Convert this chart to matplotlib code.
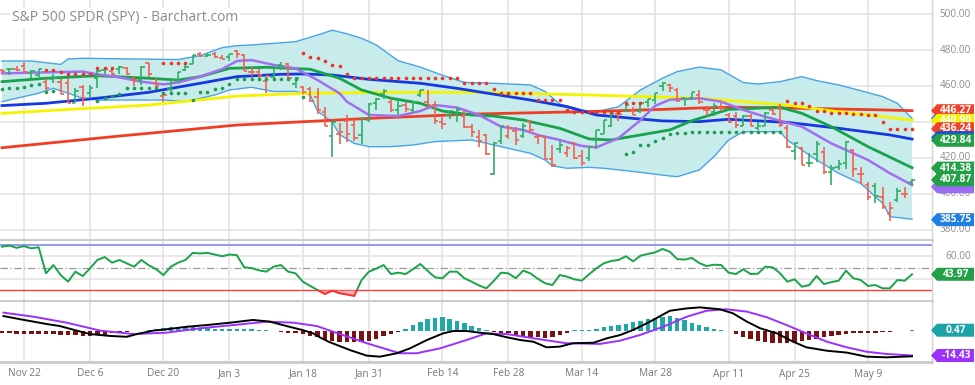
import matplotlib
matplotlib.use("Agg")
import matplotlib.pyplot as plt
from matplotlib.patches import Polygon, Rectangle
import numpy as np
import pandas as pd

plt.rcParams['font.family'] = ['Open Sans', 'DejaVu Sans']

TITLE = "S&P 500 SPDR (SPY) - Barchart.com"

holidays = ["2021-11-25", "2021-12-24", "2022-01-17", "2022-02-21", "2022-04-15"]
dates = pd.bdate_range("2021-11-17", "2022-05-17", freq="C", holidays=holidays)

tick_dates = ["2021-11-22", "2021-12-06", "2021-12-20", "2022-01-03", "2022-01-18",
              "2022-01-31", "2022-02-14", "2022-02-28", "2022-03-14", "2022-03-28",
              "2022-04-11", "2022-04-25", "2022-05-09"]
tick_labels = ["Nov 22", "Dec 6", "Dec 20", "Jan 3", "Jan 18", "Jan 31", "Feb 14",
               "Feb 28", "Mar 14", "Mar 28", "Apr 11", "Apr 25", "May 9"]

# ---- daily OHLC (SPY) ----
opens = [469.0, 469.2, 469.6, 470.9, 467.2, 466.1, 462.3, 464.1, 462.0,
         461.6, 450.7, 459.2, 456.1, 464.4, 468.7, 468.2, 469.2, 470.2, 463.1, 463.4, 472.6, 461.5, 454.5, 458.6, 462.8, 468.8, 472.1, 477.7, 476.4, 477.6, 475.6,
         476.3, 479.2, 477.2, 467.9, 467.9, 462.7, 465.2, 471.6, 472.2, 461.2, 459.7, 458.1, 453.8, 445.6, 432.0, 433.1, 440.7, 438.3, 432.7, 441.2,
         450.7, 455.5, 450.9, 446.4, 449.5, 446.7, 455.2, 451.3, 449.4, 439.9, 443.7, 443.9, 443.2, 437.3, 431.9, 432.7, 411.0, 429.6, 432.0,
         435.0, 432.4, 440.5, 431.8, 431.6, 419.6, 425.1, 422.5, 428.1, 420.9, 420.0, 429.9, 433.6, 438.0, 444.3, 445.9, 446.9, 445.9, 451.2, 452.1, 460.0, 460.3, 457.9,
         453.3, 453.1, 455.2, 446.9, 445.6, 448.0, 444.1, 443.1, 438.0, 443.6, 436.8, 437.9, 446.9, 448.5, 436.9, 423.7, 425.8, 417.2, 422.3, 423.6,
         412.1, 415.0, 417.1, 424.6, 411.1, 405.1, 404.5, 398.1, 389.4, 396.7, 400.0, 406.5]
highs = [469.2, 470.0, 470.9, 473.5, 469.1, 469.6, 463.9, 466.6, 464.0,
         464.7, 459.1, 460.3, 460.8, 468.9, 470.0, 469.6, 470.9, 470.6, 465.7, 470.9, 472.9, 464.7, 455.4, 463.2, 467.8, 472.2, 477.3, 478.8, 478.6, 479.0, 477.0,
         477.9, 480.0, 477.9, 470.8, 469.2, 465.7, 469.9, 473.2, 472.9, 465.1, 460.0, 459.6, 458.7, 448.1, 440.4, 439.7, 444.0, 441.6, 442.0, 450.3,
         453.6, 458.1, 452.9, 452.8, 450.9, 451.9, 457.9, 457.7, 451.6, 443.5, 446.3, 448.1, 446.6, 438.7, 435.5, 433.3, 428.8, 437.8, 438.2,
         437.2, 439.7, 441.1, 433.4, 432.3, 427.2, 429.5, 426.4, 428.8, 424.6, 426.8, 435.7, 441.1, 444.9, 446.5, 450.6, 448.5, 450.6, 453.0, 455.9, 462.1, 461.2, 458.8,
         453.5, 456.9, 457.8, 448.9, 450.7, 450.6, 445.0, 445.8, 444.1, 444.7, 439.8, 445.8, 447.6, 450.0, 438.1, 428.7, 426.0, 422.9, 429.5, 425.9,
         415.9, 418.9, 429.7, 425.0, 414.8, 406.4, 406.1, 404.0, 395.8, 403.2, 404.0, 408.6]
lows = [467.5, 466.3, 468.5, 467.4, 464.4, 465.2, 457.8, 461.7, 455.3,
        450.3, 450.3, 448.9, 453.6, 458.7, 466.8, 466.1, 466.5, 466.3, 460.2, 460.7, 464.8, 458.1, 451.1, 456.3, 462.6, 468.6, 472.0, 476.1, 475.9, 475.7, 474.8,
        473.9, 475.6, 468.3, 465.4, 464.6, 456.0, 462.9, 468.9, 463.4, 459.0, 455.3, 451.3, 444.5, 437.9, 420.8, 427.7, 428.9, 429.5, 427.8, 439.8,
        446.9, 453.0, 445.6, 443.8, 445.6, 445.2, 453.8, 447.2, 438.9, 436.1, 441.4, 440.0, 436.4, 431.8, 425.9, 421.5, 410.6, 427.9, 430.7,
        427.1, 431.3, 433.8, 427.9, 419.4, 415.1, 422.8, 420.4, 419.5, 415.8, 418.4, 424.8, 433.2, 437.2, 440.7, 445.6, 443.7, 444.8, 448.4, 450.1, 457.2, 456.5, 451.2,
        449.1, 452.3, 449.8, 443.5, 443.5, 445.9, 439.4, 436.6, 437.8, 437.7, 435.6, 437.7, 443.7, 437.1, 425.4, 418.8, 416.1, 415.0, 417.6, 411.2,
        405.0, 413.4, 413.7, 409.4, 405.7, 396.5, 394.8, 391.9, 385.2, 395.6, 397.6, 404.6]
closes = [468.1, 469.7, 468.9, 467.6, 468.2, 469.4, 459.0, 464.6, 455.6,
          450.5, 457.4, 453.4, 458.8, 468.3, 469.5, 466.4, 470.7, 466.6, 463.4, 470.6, 466.5, 459.9, 455.0, 463.1, 467.7, 470.6, 477.3, 476.9, 477.5, 476.2, 475.0,
          477.7, 477.6, 468.4, 467.9, 466.1, 465.5, 469.8, 471.0, 464.5, 464.7, 456.5, 451.8, 446.8, 438.0, 439.8, 434.5, 433.4, 431.2, 442.0, 449.9,
          453.0, 457.4, 446.6, 448.7, 447.3, 450.9, 457.5, 449.3, 440.5, 439.0, 446.1, 446.6, 437.1, 434.2, 429.6, 422.0, 428.3, 437.8, 436.6,
          430.0, 437.9, 435.7, 432.2, 419.4, 416.3, 427.4, 425.5, 420.1, 417.0, 426.2, 435.6, 441.1, 444.5, 444.4, 449.6, 443.8, 450.5, 452.7, 455.9, 461.6, 458.7, 451.6,
          452.9, 456.8, 451.0, 446.5, 448.8, 447.6, 439.9, 438.3, 443.3, 437.8, 438.0, 445.0, 444.7, 438.1, 426.0, 428.5, 416.1, 417.3, 427.8, 412.0,
          414.5, 416.4, 429.1, 413.8, 411.3, 398.2, 399.1, 392.8, 392.3, 401.7, 400.1, 407.87]

# ---- moving averages / bands, sampled at trading-day positions ----
ma200_pos = [0, 16, 32, 50, 64, 80, 90, 95, 100, 109, 119, 124]
ma200 = [425.7, 432.2, 438.3, 442.0, 444.4, 445.8, 447.0, 447.8, 448.2, 447.6, 446.8, 446.3]

ma100_pos = [0, 10, 20, 32, 41, 50, 64, 80, 95, 107, 114, 119, 124]
ma100 = [444.8, 447.2, 449.4, 454.4, 455.9, 456.4, 456.5, 455.0, 453.2, 449.4, 445.7, 443.5, 441.0]

ma50_pos = [0, 6, 13, 20, 27, 32, 38, 41, 45, 50, 57, 62, 72, 77, 81, 86, 90, 95, 99, 107, 114, 121, 124]
ma50 = [449.1, 450.4, 453.2, 456.5, 461.5, 465.2, 466.5, 466.7, 466.1, 463.7, 461.5, 458.7,
        452.2, 448.5, 443.9, 442.0, 440.6, 440.2, 441.5, 439.8, 436.5, 432.8, 430.5]

ma20_pos = [0, 6, 13, 20, 24, 27, 31, 36, 42, 46, 49, 53, 57, 60, 64, 67, 71, 76, 80, 83,
            87, 91, 94, 99, 106, 109, 113, 118, 124]
ma20 = [462.4, 464.3, 465.7, 464.3, 463.3, 465.2, 469.8, 470.4, 469.3, 464.3, 457.8, 453.2,
        450.4, 446.1, 443.9, 443.3, 441.1, 436.5, 430.6, 430.0, 432.8, 435.6, 440.7, 447.0,
        448.2, 444.8, 437.4, 426.3, 414.6]

ma9_pos = [0, 6, 11, 13, 16, 19, 22, 24, 27, 30, 32, 34, 37, 40, 43, 46, 47, 50, 54, 57,
           59, 62, 65, 68, 71, 73, 76, 79, 81, 84, 87, 89, 91, 95, 98, 101, 104, 109, 113, 118,
           121, 124]
ma9 = [467.0, 467.6, 468.0, 466.5, 464.8, 462.4, 460.9, 461.9, 465.2, 469.4, 473.9, 474.4,
       471.7, 469.8, 463.3, 455.9, 451.3, 443.9, 443.3, 446.1, 449.4, 448.0, 443.9, 437.4,
       435.6, 432.8, 430.0, 426.7, 425.9, 431.0, 441.0, 449.0, 452.4, 453.2, 451.3, 446.7,
       442.9, 437.4, 428.1, 418.9, 411.5, 405.0]

bb_up_pos = [0, 4, 8, 9, 11, 18, 24, 27, 30, 32, 34, 40, 43, 45, 47, 49, 51, 54, 57, 60, 63,
             67, 72, 74, 76, 79, 81, 84, 87, 90, 92, 95, 98, 101, 103, 106, 109, 111, 114,
             117, 120, 122, 124]
bb_up = [473.9, 473.9, 472.0, 475.0, 475.4, 475.0, 474.7, 476.9, 481.3, 482.4, 482.8, 484.6,
         488.3, 491.0, 489.0, 486.5, 482.8, 474.0, 470.5, 466.0, 462.0, 461.5, 460.6, 457.0,
         450.0, 446.7, 445.7, 448.5, 457.8, 464.3, 468.0, 470.5, 468.9, 461.9, 461.1, 462.4,
         465.2, 463.0, 460.6, 457.4, 454.1, 450.4, 442.0]

bb_lo_pos = [0, 2, 5, 7, 9, 11, 13, 18, 22, 25, 29, 31, 34, 37, 40, 42, 43, 45, 46, 48, 50,
             53, 56, 59, 64, 65, 68, 72, 74, 75, 77, 80, 82, 85, 88, 91, 92, 95, 97, 99, 101,
             106, 107, 109, 111, 114, 117, 120, 121, 124]
bb_lo = [451.3, 453.2, 456.0, 458.7, 456.0, 453.2, 452.2, 452.2, 452.2, 451.3, 455.0, 457.8,
         459.3, 456.9, 457.0, 455.0, 446.0, 440.0, 433.0, 428.1, 426.3, 426.3, 427.2, 429.1,
         430.0, 429.1, 426.3, 422.6, 418.9, 415.6, 414.3, 414.8, 414.3, 413.0, 411.5, 410.0,
         409.6, 413.3, 420.7, 430.0, 434.6, 434.6, 430.0, 424.4, 418.9, 411.5, 405.9, 394.8,
         387.4, 386.0]

# ---- dot studies (red above, green below), consecutive-day runs ----
sar_red_start = [6, 22, 41, 107]
sar_red_runs = [
    [468.9, 468.9, 467.6, 466.8, 466.8, 466.5, 466.5, 469.8, 469.8, 469.8],
    [472.6, 472.6, 472.6, 472.6],
    [478.1, 475.9, 475.4, 474.1, 471.5, 471.3, 466.6,
     464.4, 464.4, 464.4, 464.4, 464.4, 464.4, 464.4, 464.4, 464.4, 464.4, 464.4, 464.4, 464.4, 464.4, 464.4,
     461.9, 461.9, 461.9, 461.9, 458.2, 456.3, 456.3, 456.3, 456.3, 456.3,
     452.3, 452.3, 452.3, 452.3, 446.7, 445.3, 445.3, 445.3, 445.3, 445.3, 445.3, 445.3,
     450.4, 450.4, 450.4],
    [451.9, 450.4, 450.4, 448.9, 446.3, 446.3, 445.2, 445.2, 445.2, 444.4, 444.4, 443.9,
     443.9, 440.2, 436.2, 436.2, 436.2, 436.24],
]
sar_green_start = [0, 13, 85]
sar_green_runs = [
    [458.3, 459.1, 459.1, 459.3, 460.6, 461.1, 456.9, 457.2],
    [451.7, 453.5, 454.4, 455.4, 458.7, 458.7, 458.7, 458.7, 458.7, 456.0, 456.0, 456.0, 456.0,
     452.2, 456.5, 456.9, 458.2, 459.1, 461.0, 463.9, 463.9, 463.9, 463.9, 463.9, 463.9,
     463.9, 463.9, 463.9, 454.1],
    [422.0, 423.2, 427.2, 427.2, 429.4, 431.3, 433.3, 433.7, 433.7, 434.5, 434.5, 434.5,
     434.5, 434.5, 434.5, 434.5, 434.5, 434.5, 434.5, 434.5, 434.5, 434.5],
]

# ---- RSI (daily) ----
rsi = [68.5, 69.5, 67.5, 69.0, 67.0, 68.0, 44.8, 52.2, 43.3, 37.4, 46.3, 42.4, 49.3, 56.7,
       59.3, 54.3, 56.7, 53.7, 50.7, 56.7, 52.0, 48.5, 43.3, 50.7, 54.3, 56.7, 63.0, 62.5,
       63.0, 61.5, 60.0, 61.5, 61.0, 50.2, 49.5, 47.5, 46.3, 50.7, 52.2, 46.3, 44.8, 37.4,
       33.6, 30.0, 26.4, 29.4, 27.1, 26.0, 24.7, 38.9, 46.3, 49.0, 52.2, 44.2, 45.4, 44.2,
       48.5, 53.1, 47.0, 41.3, 40.4, 46.3, 46.3, 40.4, 37.4, 34.0, 31.5, 38.0, 45.4, 44.8,
       40.4, 47.2, 44.8, 40.0, 36.0, 34.4, 43.3, 41.8, 39.5, 38.3, 44.0, 49.3, 53.7, 55.8,
       56.7, 60.0, 55.5, 60.5, 62.0, 63.5, 66.5, 64.0, 57.5, 57.0, 58.5, 54.0, 51.3, 52.5,
       52.2, 45.4, 44.2, 48.4, 44.2, 44.5, 50.7, 50.2, 45.0, 37.4, 39.5, 32.9, 34.4, 42.4,
       35.3, 37.0, 38.3, 47.2, 40.4, 38.9, 33.6, 34.4, 31.5, 31.5, 38.9, 38.3, 43.97]

# ---- MACD ----
macd_pos = [0.2, 2.5, 6.1, 7.9, 10.2, 12.0, 14.7, 17.0, 18.4, 20.6, 22.4, 25.2, 27.9, 31.1,
            34.2, 36.5, 38.8, 41.0, 42.4, 43.3, 44.5, 47.4, 49.7, 51.5, 53.8, 55.6, 57.9,
            60.1, 61.5, 63.3, 65.1, 66.9, 68.8, 70.6, 72.4, 74.2, 76.0, 77.8, 80.6, 82.4,
            84.2, 86.0, 88.3, 91.0, 93.3, 95.1, 97.8, 99.6, 101.5, 103.3, 105.6, 107.8,
            109.6, 112.4, 115.1, 117.8, 120.5, 122.8, 124.0]
macd = [8.8, 6.9, 4.1, 2.9, 0.2, -1.8, -2.9, -3.4, -1.8, 0.2, 1.0, 2.5, 3.5, 4.9, 6.5, 5.5,
        2.9, 0.5, -1.4, -3.7, -6.3, -11.2, -14.5, -15.1, -13.1, -10.2, -5.3, -1.4, 0.0, 0.0,
        -1.0, -1.8, -3.7, -5.3, -6.3, -9.6, -9.2, -7.2, -6.9, -4.3, -2.4, 0.6, 5.5, 11.9,
        13.3, 13.9, 12.8, 10.4, 5.5, 1.6, -1.4, -6.3, -9.6, -11.6, -12.7, -15.1, -15.5,
        -15.1, -14.9]
signal_pos = [0.2, 4.3, 8.8, 13.4, 17.9, 22.4, 27.0, 31.5, 36.1, 39.7, 42.9, 45.1, 49.7,
              54.2, 56.5, 59.7, 63.3, 66.0, 68.8, 72.4, 76.9, 81.5, 84.2, 86.9, 90.1, 93.3,
              96.0, 98.7, 101.5, 104.2, 106.9, 109.6, 112.4, 115.1, 117.8, 120.5, 124.0]
signal = [10.8, 8.4, 4.9, 0.2, -1.8, -1.0, 1.6, 3.5, 5.5, 4.9, 2.9, -0.4, -7.2, -13.1,
          -13.1, -10.2, -5.3, -1.4, -1.8, -4.3, -7.2, -7.6, -5.7, -2.4, 2.5, 8.4, 11.9, 12.8,
          11.4, 8.1, 3.5, -1.4, -6.3, -9.6, -12.2, -13.5, -14.43]
hist = [-1.4, -1.4, -1.6, -1.6, -1.8, -1.8, -2.0, -2.0, -2.2, -2.4, -2.5, -2.9, -2.9, -2.5,
        -2.2, -1.4, -0.8, -0.4, -0.2, 0.2, 0.6, 1.4, 1.8, 2.2, 2.5, 2.4, 2.2, 2.0, 1.6, 1.4,
        1.2, 1.4, 1.4, 1.2, 1.4, 0.8, 0.4, -0.2, -0.6, -1.0, -1.4, -1.8, -2.9, -3.7, -5.3,
        -5.9, -6.3, -6.3, -6.7, -6.3, -5.7, -4.5, -2.9, -1.8, -0.6, 1.2, 3.3, 5.3, 6.9, 7.5,
        8.0, 7.1, 5.7, 4.5, 2.9, 1.8, 0.6, -0.4, -1.0, -1.4, -2.2, -2.9, -3.3, -3.7, -4.1,
        -3.7, -2.5, -1.0, 0.4, 0.6, 0.6, 1.4, 2.5, 3.1, 3.5, 3.9, 5.3, 6.1, 6.9, 7.5, 8.0,
        8.8, 7.8, 6.5, 4.9, 3.5, 2.4, 1.4, 0.6, -0.2, -1.8, -3.7, -4.9, -5.7, -6.3, -6.9,
        -7.3, -7.1, -6.7, -6.1, -5.3, -4.5, -3.7, -2.9, -2.4, -1.8, -1.4, -1.4, -1.0, -1.0,
        -0.6, -0.4, -0.2, -0.2, 0.47]

# ---- right-hand value tags and visible axis values ----
price_tags = [(442.0, "#2a7de1", ""), (446.27, "#f0412b", "446.27"),
              (440.90, "#f2f200", "440.90"), (436.24, "#f0412b", "436.24"),
              (431.3, "#1a4fe0", ""), (429.84, "#22a045", "429.84"),
              (404.0, "#9b6cf2", ""), (414.38, "#22a045", "414.38"),
              (407.87, "#22a045", "407.87"), (385.75, "#1f7fe3", "385.75")]
price_grid = [380, 400, 420, 440, 460, 480, 500]
price_tick_text = [380, 400, 420, 460, 480, 500]   # 440 is hidden behind the tags
rsi_grid = [40, 60]
rsi_tick_text = [60]                               # 40 is hidden behind the tag
rsi_tag = (43.97, "#22a045", "43.97")
macd_tags = [(0.47, "#1ba3a8", "0.47"), (-14.43, "#9b30ff", "-14.43")]

# ================= drawing =================
W, H = 975, 385
fig = plt.figure(figsize=(W / 100, H / 100), dpi=100)
fig.patch.set_facecolor("white")


def rect(x0, y0, x1, y1):
    return [x0 / W, 1 - y1 / H, (x1 - x0) / W, (y1 - y0) / H]


ax1 = fig.add_axes(rect(0, 0, 932, 240))
ax2 = fig.add_axes(rect(0, 241, 932, 301))
ax3 = fig.add_axes(rect(0, 302, 932, 362))

X0, X1 = -0.27, 126.72
n = len(closes)
x = np.arange(n)
tick_pos = [dates.get_loc(pd.Timestamp(d)) for d in tick_dates]

GRID = "#e4e4e4"
for ax in (ax1, ax2, ax3):
    ax.set_xlim(X0, X1)
    ax.set_xticks(tick_pos)
    ax.set_xticklabels([])
    ax.tick_params(length=0, labelleft=False, labelbottom=False)
    ax.grid(axis="x", color=GRID, lw=1.2)
    ax.set_axisbelow(True)
    for s in ("top", "left"):
        ax.spines[s].set_visible(False)
    ax.spines["right"].set_color("#d4d4d4")
    ax.spines["right"].set_linewidth(1.0)
    ax.spines["bottom"].set_color("#c9c9c9")
    ax.spines["bottom"].set_linewidth(2.0)

# ---- main price panel ----
ax1.set_ylim(374.44, 507.78)
ax1.set_yticks(price_grid)
ax1.set_yticklabels([])
ax1.grid(axis="y", color=GRID, lw=1.2)

ax1.fill(np.concatenate([bb_up_pos, bb_lo_pos[::-1]]),
         np.concatenate([bb_up, bb_lo[::-1]]),
         color="#c8ecec", lw=0, zorder=1)
ax1.plot(bb_up_pos, bb_up, color="#4aa3e6", lw=1.0, zorder=2)
ax1.plot(bb_lo_pos, bb_lo, color="#4aa3e6", lw=1.0, zorder=2)
ax1.plot(ma200_pos, ma200, color="#ef3e26", lw=2.0, zorder=3)
ax1.plot(ma100_pos, ma100, color="#f4f400", lw=2.0, zorder=3)
ax1.plot(ma50_pos, ma50, color="#1538e0", lw=2.0, zorder=3)
ax1.plot(ma20_pos, ma20, color="#17a34a", lw=2.0, zorder=3)
ax1.plot(ma9_pos, ma9, color="#a070f0", lw=1.8, zorder=3)

o = np.array(opens); h = np.array(highs); l = np.array(lows); c = np.array(closes)
prev = np.r_[o[0], c[:-1]]
bar_col = np.where(c >= prev, "#33ad63", "#f0614f")
ax1.vlines(x, l, h, colors=bar_col, lw=1.2, zorder=5)
ax1.hlines(o, x - 0.45, x, colors=bar_col, lw=1.2, zorder=5)
ax1.hlines(c, x, x + 0.45, colors=bar_col, lw=1.2, zorder=5)

for start, run in zip(sar_red_start, sar_red_runs):
    ax1.plot(start + np.arange(len(run)), run, ls="none", marker="o", ms=2.6,
             color="#ec3324", mec="none", zorder=6)
for start, run in zip(sar_green_start, sar_green_runs):
    ax1.plot(start + np.arange(len(run)), run, ls="none", marker="o", ms=2.6,
             color="#1f9d4d", mec="none", zorder=6)

# ---- RSI panel ----
ax2.set_ylim(20.22, 73.56)
ax2.set_yticks(rsi_grid)
ax2.set_yticklabels([])
ax2.grid(axis="y", color=GRID, lw=1.2)
ax2.axhline(70, color="#7f86f5", lw=1.2, zorder=2)
ax2.axhline(30, color="#ff3b3b", lw=1.0, zorder=2)
ax2.axhline(50, color="#9a9a9a", lw=0.9, ls=(0, (6, 2, 1, 2)), zorder=2)
r = np.array(rsi)
ax2.fill_between(x, r, 30, where=r < 30, interpolate=True, color="#ff9b9b",
                 alpha=0.7, lw=0, zorder=3)
lg, = ax2.plot(x, r, color="#19a34a", lw=1.4, zorder=4)
lr, = ax2.plot(x, r, color="#ff2a2a", lw=1.4, zorder=4)
lg.set_clip_path(Rectangle((X0, 30), X1 - X0, 100, transform=ax2.transData))
lr.set_clip_path(Rectangle((X0, -100), X1 - X0, 130, transform=ax2.transData))

# ---- MACD panel ----
ax3.set_ylim(-18.24, 17.06)
ax3.set_yticks([])
hh = np.array(hist)
ax3.bar(x, hh, width=0.6, color=np.where(hh >= 0, "#1fa8a8", "#7a1111"), zorder=2)
ax3.plot(signal_pos, signal, color="#9b30ff", lw=1.4, zorder=3)
ax3.plot(macd_pos, macd, color="black", lw=1.4, zorder=4)

# ---- texts & tags ----
fig.text(12 / W, 1 - 18 / H, TITLE, fontsize=10.0, color="#8a8a8a", va="center",
         ha="left", bbox=dict(facecolor="white", edgecolor="none", pad=1.5), zorder=3)

for pos, lab in zip(tick_pos, tick_labels):
    xp = ax3.transData.transform((pos, 0))[0]
    fig.text(xp / W, 1 - 374 / H, lab, ha="center", va="center", fontsize=7.3,
             color="#777777", zorder=2)


def ytick_text(ax, val):
    yp = ax.transData.transform((0, val))[1]
    fig.text(971 / W, yp / H, f"{val:.2f}", ha="right", va="center", fontsize=7.2,
             color="#8c8c8c", zorder=2)


for v in price_tick_text:
    ytick_text(ax1, v)
for v in rsi_tick_text:
    ytick_text(ax2, v)

_z = [10]


def tag(ax, value, face, text):
    yp = ax.transData.transform((0, value))[1]
    hh_ = 6.5
    pts = [(931, yp), (937, yp + hh_), (974, yp + hh_), (974, yp - hh_), (937, yp - hh_)]
    poly = Polygon([(px / W, py / H) for px, py in pts], closed=True,
                   transform=fig.transFigure, facecolor=face, edgecolor="none",
                   zorder=_z[0])
    fig.add_artist(poly)
    if text:
        fig.text(956 / W, yp / H, text, ha="center", va="center", fontsize=7.4,
                 color="white", fontweight="bold", zorder=_z[0] + 1)
    _z[0] += 2


for v, col, t in price_tags:
    tag(ax1, v, col, t)
tag(ax2, rsi_tag[0], rsi_tag[1], rsi_tag[2])
for v, col, t in macd_tags:
    tag(ax3, v, col, t)

fig.savefig("out.png", dpi=100, facecolor="white")
